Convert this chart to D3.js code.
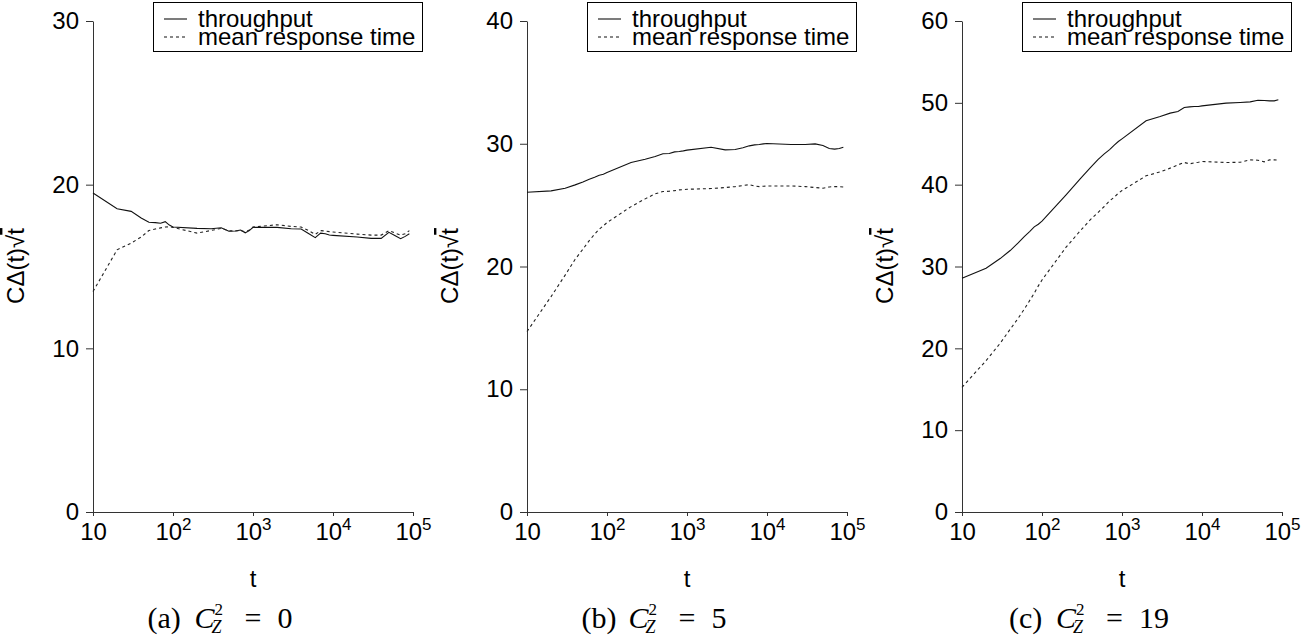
<!DOCTYPE html>
<html><head><meta charset="utf-8">
<script src="https://cdn.jsdelivr.net/npm/d3@7"></script>
<style>body{margin:0;background:#fff} svg{display:block}</style>
</head><body><svg id="c" width="1315" height="640"></svg>
<script>
const tValues = [10,20,30,40,50,60,70,80,90,100,200,300,400,500,600,700,800,900,1000,2000,3000,4000,5000,6000,7000,8000,9000,10000,20000,30000,40000,50000,60000,70000,80000,90000];

const throughputA = [19.49,18.53,18.37,17.96,17.70,17.68,17.64,17.74,17.53,17.41,17.33,17.31,17.37,17.15,17.17,17.23,17.06,17.19,17.39,17.39,17.31,17.29,17.0,16.76,17.04,17.0,16.92,16.9,16.8,16.72,16.72,17.09,16.88,16.70,16.84,17.0];
const responseA = [13.47,16.02,16.43,16.8,17.2,17.29,17.36,17.41,17.43,17.39,17.04,17.2,17.33,17.19,17.17,17.19,17.13,17.23,17.41,17.55,17.45,17.41,17.19,16.96,17.19,17.17,17.13,17.11,16.98,16.92,16.92,17.19,17.04,16.92,17.0,17.19];

const throughputB = [26.05,26.16,26.38,26.65,26.89,27.11,27.28,27.44,27.52,27.66,28.47,28.74,28.96,29.18,29.2,29.34,29.37,29.42,29.48,29.72,29.5,29.53,29.67,29.83,29.91,29.94,29.99,30.02,29.94,29.94,29.99,29.86,29.61,29.56,29.61,29.72];
const responseB = [14.7,17.55,19.3,20.59,21.41,22.11,22.63,23.04,23.31,23.58,24.88,25.51,25.92,26.11,26.13,26.18,26.24,26.26,26.29,26.35,26.43,26.51,26.59,26.67,26.56,26.51,26.54,26.56,26.56,26.51,26.43,26.38,26.48,26.51,26.51,26.48];

const throughputC = [28.57,29.79,30.97,31.95,32.85,33.66,34.27,34.84,35.17,35.54,38.75,40.71,42.05,43.07,43.77,44.29,44.83,45.27,45.6,47.8,48.33,48.74,48.94,49.43,49.51,49.55,49.55,49.63,49.96,50.04,50.12,50.32,50.28,50.24,50.24,50.37];
const responseC = [15.24,18.5,20.62,22.33,23.63,24.78,25.83,26.73,27.63,28.35,32.36,34.35,35.7,36.59,37.33,38.02,38.47,38.96,39.28,41.08,41.56,42.02,42.42,42.71,42.54,42.66,42.74,42.83,42.71,42.74,43.03,42.99,42.79,43.03,43.03,42.99];

const xTicks = [10,100,1000,10000,100000];
const xTickExponents = ["", "2", "3", "4", "5"];
const yTicksA = [0,10,20,30];
const yTicksB = [0,10,20,30,40];
const yTicksC = [0,10,20,30,40,50,60];
const seriesNames = ["throughput", "mean response time"];
const captionLetters = ["a","b","c"];
const captionValues = ["0","5","19"];
const xLabel = "t";

const panels = [
  {left: 93, yMax: 30, yTicks: yTicksA, tp: throughputA, rt: responseA},
  {left: 527, yMax: 40, yTicks: yTicksB, tp: throughputB, rt: responseB},
  {left: 962, yMax: 60, yTicks: yTicksC, tp: throughputC, rt: responseC}
];

const svg = d3.select("#c");
const plotTop = 21, plotBottom = 512, W = 320;
const SANS = "'Liberation Sans', Arial, Helvetica, sans-serif";
const SERIF = "'Liberation Serif', 'Times New Roman', serif";
const FS = "24px";

panels.forEach((p, i) => {
  const x = d3.scaleLog().domain([10, 100000]).range([p.left, p.left + W]);
  const y = d3.scaleLinear().domain([0, p.yMax]).range([plotBottom, plotTop]);
  const g = svg.append("g");

  const ya = g.append("g").attr("transform", `translate(${p.left},0)`)
    .call(d3.axisLeft(y).tickValues(p.yTicks).tickFormat(d3.format("d")).tickSize(7).tickPadding(7).tickSizeOuter(0));
  const xa = g.append("g").attr("transform", `translate(0,${plotBottom})`)
    .call(d3.axisBottom(x).tickValues(xTicks).tickFormat(() => "").tickSize(4).tickSizeOuter(0));
  xa.selectAll(".tick text").remove();
  [ya, xa].forEach(a => {
    a.selectAll("path,line").attr("stroke", "#333").attr("stroke-width", 1);
    a.selectAll("text").style("font-family", SANS).style("font-size", FS).attr("fill", "#000");
  });
  xa.selectAll(".tick").each(function(d, k) {
    const t = d3.select(this).append("text")
      .attr("y", 28).attr("fill", "#000").attr("text-anchor", "middle")
      .style("font-family", SANS).style("font-size", FS);
    t.append("tspan").text("10");
    if (xTickExponents[k]) t.append("tspan").attr("dy", -10).style("font-size", "17px").text(xTickExponents[k]);
  });

  const line = d3.line().x((d, k) => x(tValues[k])).y(d => y(d));
  g.append("path").datum(p.tp).attr("d", line).attr("fill", "none").attr("stroke", "#111").attr("stroke-width", 1.1);
  g.append("path").datum(p.rt).attr("d", line).attr("fill", "none").attr("stroke", "#222").attr("stroke-width", 1.1).attr("stroke-dasharray", "3,3");

  const yl = g.append("text")
    .attr("transform", `translate(${p.left - 69},266) rotate(-90)`)
    .attr("text-anchor", "middle").style("font-family", SANS).style("font-size", FS);
  yl.append("tspan").text("C\u0394(t)\u221A");
  yl.append("tspan").text("t").style("text-decoration", "overline");

  g.append("text").attr("x", p.left + W / 2).attr("y", 587).attr("text-anchor", "middle")
    .style("font-family", SANS).style("font-size", FS).text(xLabel);

  const lx = p.left + 60, lw = W + 9 - 60;
  const lg = g.append("g");
  lg.append("rect").attr("x", lx + 0.5).attr("y", 2.5).attr("width", lw).attr("height", 49)
    .attr("fill", "#fff").attr("stroke", "#000").attr("stroke-width", 1);
  [0, 1].forEach(j => {
    const ly = 19 + j * 18;
    lg.append("line").attr("x1", lx + 11).attr("x2", lx + 34).attr("y1", ly).attr("y2", ly)
      .attr("stroke", "#111").attr("stroke-width", 1.1).attr("stroke-dasharray", j ? "3,3" : null);
    lg.append("text").attr("x", lx + 45).attr("y", 27 + j * 18)
      .style("font-family", SANS).style("font-size", FS).text(seriesNames[j]);
  });

  const cg = g.append("g");
  const base = 628;
  cg.append("text").attr("x", 0).attr("y", base).style("font-family", SERIF).style("font-size", "30px").text(`(${captionLetters[i]})`);
  cg.append("text").attr("x", 47).attr("y", base).style("font-family", SERIF).style("font-size", "30px").style("font-style", "italic").text("C");
  cg.append("text").attr("x", 67).attr("y", base - 13).style("font-family", SERIF).style("font-size", "17px").text("2");
  cg.append("text").attr("x", 64).attr("y", base + 5).style("font-family", SERIF).style("font-size", "18px").style("font-style", "italic").text("Z");
  cg.append("text").attr("x", 97).attr("y", base).style("font-family", SERIF).style("font-size", "30px").text("=");
  cg.append("text").attr("x", 130).attr("y", base).style("font-family", SERIF).style("font-size", "30px").text(captionValues[i]);
  const bb = cg.node().getBBox();
  const cx = p.left + 127;
  cg.attr("transform", `translate(${cx - (bb.x + bb.width / 2)},0)`);
});
</script></body></html>
